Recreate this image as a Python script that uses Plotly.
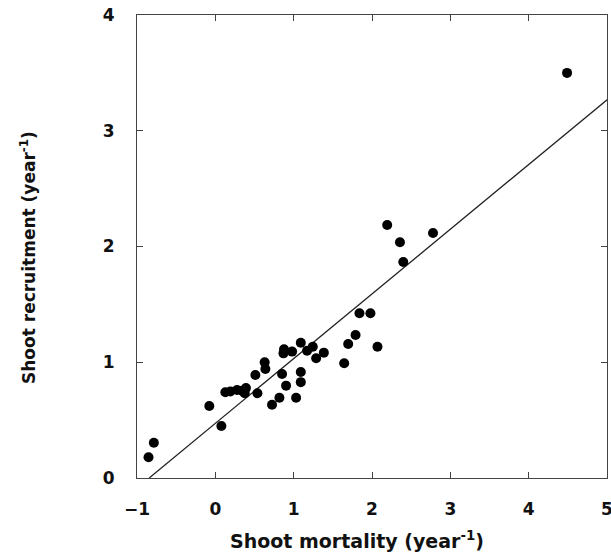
import plotly.graph_objects as go

# Shoot mortality (x) and shoot recruitment (y), year^-1
mortality = [-0.853, -0.785, -0.077, 0.077, 0.128, 0.192, 0.277, 0.341, 0.391, 0.375,
             0.511, 0.537, 0.630, 0.639, 0.724, 0.818, 0.852, 0.870, 0.877, 0.903,
             0.980, 1.031, 1.091, 1.091, 1.091, 1.171, 1.244, 1.287, 1.385, 1.645,
             1.696, 1.790, 1.840, 1.980, 2.070, 2.194, 2.357, 2.399, 2.779, 4.490]
recruitment = [0.179, 0.305, 0.622, 0.449, 0.741, 0.747, 0.760, 0.754, 0.778, 0.732,
               0.890, 0.732, 0.999, 0.942, 0.633, 0.694, 0.898, 1.077, 1.112, 0.798,
               1.092, 0.694, 1.169, 0.916, 0.828, 1.100, 1.134, 1.034, 1.083, 0.991,
               1.158, 1.235, 1.423, 1.423, 1.134, 2.186, 2.036, 1.866, 2.117, 3.500]

# Fitted regression line
slope = 0.559
intercept = 0.472
line_x_start = -0.844
line_x_end = 5.2

x_ticks = [-1, 0, 1, 2, 3, 4, 5]
y_ticks = [0, 1, 2, 3, 4]

fig = go.Figure()
fig.add_trace(go.Scatter(
    x=[line_x_start, line_x_end],
    y=[intercept + slope * line_x_start, intercept + slope * line_x_end],
    mode="lines", line=dict(color="#222", width=1.3), showlegend=False,
    hoverinfo="skip"))
fig.add_trace(go.Scatter(
    x=mortality, y=recruitment, mode="markers",
    marker=dict(color="black", size=10), showlegend=False))

font_fam = "DejaVu Sans, Arial, sans-serif"
tick_font = dict(family=font_fam, size=17, color="#111", weight="bold")
axis_common = dict(
    showgrid=False, zeroline=False, showline=True, linecolor="#444", linewidth=1,
    mirror="ticks", ticks="inside", ticklen=6, tickcolor="#444", tickwidth=1,
    tickfont=tick_font, ticklabeloverflow="allow", automargin=False,
)
fig.update_xaxes(range=[-1, 5], tickvals=x_ticks,
                 ticktext=[f"{v:d}".replace("-", "\u2212") for v in x_ticks],
                 ticklabelstandoff=16, **axis_common)
fig.update_yaxes(range=[0, 4], tickvals=y_ticks, ticklabelstandoff=18, **axis_common)

fig.update_layout(
    width=611, height=554,
    margin=dict(l=137, r=4, t=15, b=76),
    plot_bgcolor="white", paper_bgcolor="white",
    annotations=[
        dict(text="Shoot mortality (year<sup>-1</sup>)", xref="paper", yref="paper",
             x=(357 - 137) / 470, y=(478 - 540) / 463, xanchor="center", yanchor="middle",
             showarrow=False, font=dict(family=font_fam, size=19, color="#111", weight="bold")),
        dict(text="Shoot recruitment (year<sup>-1</sup>)", xref="paper", yref="paper",
             x=(28 - 137) / 470, y=(478 - 258) / 463, xanchor="center", yanchor="middle",
             textangle=-90, showarrow=False,
             font=dict(family=font_fam, size=17, color="#111", weight="bold")),
    ],
)
fig.write_html("out.html")
